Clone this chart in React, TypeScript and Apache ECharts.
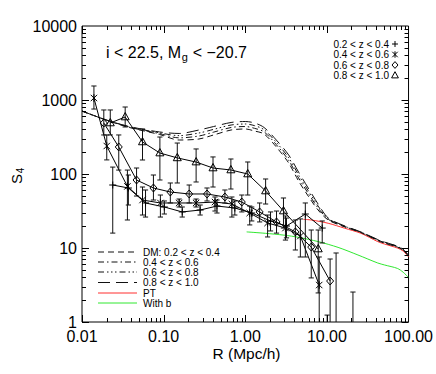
import React, { useEffect, useRef } from 'react';
import * as echarts from 'echarts';

const FONT = '"Liberation Sans", Arial, Helvetica, sans-serif';

// ---- axis tick labels ----
const X_LABELS = ['0.01', '0.10', '1.00', '10.00', '100.00'];
const Y_LABELS = ['1', '10', '100', '1000', '10000'];
const X_DECADES = [0.01, 0.1, 1, 10];
const Y_DECADES = [1, 10, 100, 1000];

// ---- 0.2 < z < 0.4 (+) ----
const plusR = [0.0238, 0.037, 0.06, 0.102, 0.169, 0.28, 0.45, 0.745, 1.2, 2.04, 3.2, 5.44, 8.76];
const plusS = [71, 64.7, 40.6, 35.8, 30.7, 32.6, 36.9, 34.7, 29.7, 23.2, 19.8, 28.8, 18.6];
const plusLo = [15.9, 38.1, 26.2, 28.8, 26.2, 27.9, 29.7, 27.9, 23.2, 17.0, 13.7, 7.56, 11.7];
const plusHi = [124, 96.9, 60.8, 43.2, 35.8, 38.1, 44.5, 43.2, 35.8, 30.7, 25.4, 40.6, 23.2];
// points below the plot, only the upper error bar visible
const lowR = [10.07, 12.96, 20.85];
const lowHi = [1.24, 8.56, 2.54];

// ---- 0.4 < z < 0.6 (asterisk) ----
const starR = [0.014, 0.0201, 0.036, 0.0551, 0.0913, 0.155, 0.25, 0.426, 0.685, 1.134, 1.877, 3.108, 4.729, 8.05];
const starS = [1064, 239, 68, 44.5, 40.6, 40.6, 40.6, 41.8, 39.3, 29.7, 21.8, 18.6, 14.5, 3.16];
const starLo = [755, 155, 23.9, 27.9, 26.2, 35.8, 35.8, 31.6, 26.2, 20.5, 14.1, 12.8, 7.56, 0.3];
const starHi = [1546, 337, 113, 66.7, 52.0, 45.9, 45.9, 48.9, 48.9, 36.9, 27.9, 27.1, 24.7, 7.56];

// ---- 0.6 < z < 0.8 (diamond) ----
const diaR = [0.0185, 0.0282, 0.0466, 0.075, 0.1208, 0.2056, 0.34, 0.563, 0.907, 1.5, 2.415, 4.11, 6.43, 10.95];
const diaS = [489, 232, 83, 64.7, 57.1, 53.7, 53.7, 48.9, 41.8, 30.7, 22.5, 16.5, 10.3, 3.58];
const diaLo = [337, 113, 50.4, 44.5, 40.6, 40.6, 43.2, 40.6, 30.7, 22.5, 15.9, 9.4, 3.94, 0.3];
const diaHi = [733, 337, 120.5, 96.9, 75.6, 71, 64.7, 60.8, 52, 40.6, 31.6, 23.9, 17.5, 7.1];

// ---- 0.8 < z < 1.0 (triangle) ----
const triR = [0.0222, 0.0338, 0.0551, 0.09, 0.147, 0.25, 0.4025, 0.6665, 1.0725, 1.7755, 2.938, 7.83];
const triS = [489, 589, 271, 192, 165, 145, 120.5, 113.3, 100, 58.9, 31.6, 9.69];
const triLo = [337, 432, 154.6, 83, 75.6, 78, 66.7, 62.7, 52, 39.3, 18.6, 2.47];
const triHi = [733, 804, 406, 316, 262, 218, 170, 159.5, 145.3, 85.6, 47.4, 17.5];

// ---- DM curves ----
const dmR = [0.01, 0.019, 0.038, 0.089, 0.155, 0.27, 0.41, 0.67, 1.0, 1.3, 1.7, 2.4, 3.4, 4.5, 5.9, 7.8, 10.4, 16.7, 26, 42, 51, 73, 86, 100];
const dm02 = [710, 545, 425, 342, 288, 297, 337, 393, 406, 381, 347, 232, 141, 80.4, 50.4, 32.6, 23.9, 19.2, 16.2, 12.6, 11.6, 10.3, 9.3, 7.8];
const dm04 = [710, 545, 429, 351, 308, 326, 368, 425, 438, 414, 371, 249, 153, 88.3, 54.8, 34.7, 24.4, 19.4, 16.3, 12.8, 11.8, 10.4, 9.4, 7.85];
const dm06 = [710, 545, 434, 360, 330, 358, 401, 459, 474, 450, 397, 268, 166, 96.9, 59.5, 36.9, 24.9, 19.6, 16.4, 12.9, 11.9, 10.5, 9.5, 7.9];
const dm08 = [710, 545, 438, 370, 353, 393, 438, 497, 512, 489, 425, 288, 181, 106, 64.7, 39.3, 25.4, 19.8, 16.5, 13.0, 12.0, 10.6, 9.6, 8.0];

// ---- PT and With b ----
const ptR = [5.14, 6.43, 10.36, 16.5, 26.1, 42, 51, 73, 86, 100];
const ptS = [24.4, 23.9, 21.6, 18.5, 15.8, 12.2, 11.3, 10.0, 9.1, 7.56];
const wbR = [1.04, 1.76, 3.0, 4.47, 7.83, 13.7, 24.0, 42, 51, 73, 86, 100];
const wbS = [16.5, 15.8, 14.9, 13.95, 12.2, 10.2, 8.05, 6.27, 5.89, 5.3, 4.7, 4.0];

const pairs = (r: number[], s: number[]) => r.map((x, i) => [x, s[i]]);

function markerEls(kind: string, cx: number, cy: number, k = 1): any[] {
  const st = { stroke: '#000', lineWidth: 1, fill: 'none' };
  const ln = (x1: number, y1: number, x2: number, y2: number) => ({ type: 'line', shape: { x1, y1, x2, y2 }, style: st });
  if (kind === 'plus') return [ln(cx - 3.5 * k, cy, cx + 3.5 * k, cy), ln(cx, cy - 3.5 * k, cx, cy + 3.5 * k)];
  if (kind === 'star') return [ln(cx, cy - 3.8 * k, cx, cy + 3.8 * k), ln(cx - 3.2 * k, cy - 3.2 * k, cx + 3.2 * k, cy + 3.2 * k), ln(cx - 3.2 * k, cy + 3.2 * k, cx + 3.2 * k, cy - 3.2 * k)];
  if (kind === 'diamond') return [{ type: 'polygon', shape: { points: [[cx, cy - 4 * k], [cx + 3.5 * k, cy], [cx, cy + 4 * k], [cx - 3.5 * k, cy]] }, style: st }];
  return [{ type: 'polygon', shape: { points: [[cx, cy - 4.5 * k], [cx + 4 * k, cy + 2.8 * k], [cx - 4 * k, cy + 2.8 * k]] }, style: st }];
}

function errSeries(kind: string, R: number[], S: number[], lo: number[], hi: number[]) {
  return {
    type: 'custom',
    coordinateSystem: 'cartesian2d',
    clip: true,
    silent: true,
    z: 6,
    encode: { x: 0, y: 1 },
    data: R.map((r, i) => [r, S[i], lo[i], hi[i]]),
    renderItem: (params: any, api: any) => {
      const x = api.value(0);
      const p = api.coord([x, api.value(1)]);
      const pl = api.coord([x, api.value(2)]);
      const ph = api.coord([x, api.value(3)]);
      const st = { stroke: '#111', lineWidth: 1 };
      return {
        type: 'group',
        children: [
          { type: 'line', shape: { x1: p[0], y1: ph[1], x2: p[0], y2: pl[1] }, style: st },
          { type: 'line', shape: { x1: p[0] - 2.6, y1: ph[1], x2: p[0] + 2.6, y2: ph[1] }, style: st },
          { type: 'line', shape: { x1: p[0] - 2.6, y1: pl[1], x2: p[0] + 2.6, y2: pl[1] }, style: st },
          ...markerEls(kind, p[0], p[1]),
        ],
      };
    },
  };
}

function connect(R: number[], S: number[]) {
  return {
    type: 'line', data: pairs(R, S), symbol: 'none', silent: true, z: 5,
    lineStyle: { color: '#000', width: 1 },
  };
}

function dmLine(S: number[], dash: number[]) {
  return {
    type: 'line', data: pairs(dmR, S), symbol: 'none', silent: true, z: 3, smooth: 0.3,
    lineStyle: { color: '#111', width: 1, type: dash },
  };
}

const DASH02 = [6, 4];
const DASH04 = [6, 3, 1.5, 3];
const DASH06 = [6, 3, 1.5, 2.5, 1.5, 2.5, 1.5, 3];
const DASH08 = [12, 6];
const RED = '#ff2e2e';
const GREEN = '#30e830';

export default function App() {
  const ref = useRef<HTMLDivElement>(null);
  useEffect(() => {
    const chart = echarts.init(ref.current!, null, { renderer: 'svg' });

    const cv = document.createElement('canvas').getContext('2d')!;
    const measure = (t: string, size: number) => { cv.font = `${size}px ${FONT}`; return cv.measureText(t).width; };

    // ticks
    const tickData: number[][] = [];
    X_DECADES.forEach((d) => { for (let m = 1; m <= 9; m++) tickData.push([m * d, 1, m === 1 ? 1 : 0, 0]); });
    Y_DECADES.forEach((d) => { for (let m = 1; m <= 9; m++) tickData.push([0.01, m * d, m === 1 ? 1 : 0, 1]); });

    const tickSeries = {
      type: 'custom', coordinateSystem: 'cartesian2d', clip: false, silent: true, z: 10,
      encode: { x: 0, y: 1 },
      data: tickData,
      renderItem: (params: any, api: any) => {
        const bl = api.coord([0.01, 1]);
        const tr = api.coord([100, 10000]);
        const len = api.value(2) ? 7 : 4;
        const st = { stroke: '#000', lineWidth: 1 };
        if (!api.value(3)) {
          const x = Math.round(api.coord([api.value(0), 1])[0]) + 0.5;
          return { type: 'group', children: [
            { type: 'line', shape: { x1: x, y1: bl[1], x2: x, y2: bl[1] - len }, style: st },
            { type: 'line', shape: { x1: x, y1: tr[1], x2: x, y2: tr[1] + len }, style: st },
          ] };
        }
        const y = Math.round(api.coord([0.01, api.value(1)])[1]) + 0.5;
        return { type: 'group', children: [
          { type: 'line', shape: { x1: bl[0], y1: y, x2: bl[0] + len, y2: y }, style: st },
          { type: 'line', shape: { x1: tr[0], y1: y, x2: tr[0] - len, y2: y }, style: st },
        ] };
      },
    };

    const lowSeries = {
      type: 'custom', coordinateSystem: 'cartesian2d', clip: true, silent: true, z: 6,
      encode: { x: 0, y: 1 },
      data: lowR.map((r, i) => [r, lowHi[i]]),
      renderItem: (params: any, api: any) => {
        const ph = api.coord([api.value(0), api.value(1)]);
        const pb = api.coord([api.value(0), 0.5]);
        const st = { stroke: '#111', lineWidth: 1 };
        return { type: 'group', children: [
          { type: 'line', shape: { x1: ph[0], y1: ph[1], x2: ph[0], y2: pb[1] }, style: st },
          { type: 'line', shape: { x1: ph[0] - 2.6, y1: ph[1], x2: ph[0] + 2.6, y2: ph[1] }, style: st },
        ] };
      },
    };

    const txt = (text: string, x: number, y: number, size: number, align = 'left', extra: any = {}) => ({
      type: 'text', x, y, silent: true, z: 20,
      style: { text, font: `${size}px ${FONT}`, fill: '#000', align, verticalAlign: 'middle', textAlign: align, textVerticalAlign: 'middle', ...extra },
    });

    // title
    const t1 = 'i < 22.5, M';
    const t3 = ' < \u221220.7';
    const tx = 106, ty = 52, ts = 16;
    const w1 = measure(t1, ts);
    const w2 = measure('g', 11);

    // bottom-left legend
    const legRows = [252, 262, 272, 282.5, 293, 303];
    const legLabels = ['DM: 0.2 < z < 0.4', '0.4 < z < 0.6', '0.6 < z < 0.8', '0.8 < z < 1.0', 'PT', 'With b'];
    const legStyles = [
      { stroke: '#111', lineDash: DASH02 },
      { stroke: '#111', lineDash: DASH04 },
      { stroke: '#111', lineDash: DASH06 },
      { stroke: '#111', lineDash: DASH08 },
      { stroke: RED, lineDash: null },
      { stroke: GREEN, lineDash: null },
    ];
    const legEls: any[] = [];
    legRows.forEach((y, i) => {
      legEls.push({ type: 'line', silent: true, z: 20, shape: { x1: 98, y1: y, x2: 137, y2: y }, style: { lineWidth: 1, ...legStyles[i] } });
      legEls.push(txt(legLabels[i], 143, y, 10));
    });

    // top-right legend
    const trRows = [44, 54.5, 65, 75.5];
    const trLabels = ['0.2 < z < 0.4', '0.4 < z < 0.6', '0.6 < z < 0.8', '0.8 < z < 1.0'];
    const trKinds = ['plus', 'star', 'diamond', 'tri'];
    trRows.forEach((y, i) => {
      legEls.push(txt(trLabels[i], 389, y, 10, 'right'));
      markerEls(trKinds[i], 395, y, 0.85).forEach((e) => legEls.push({ ...e, silent: true, z: 20 }));
    });

    const option: any = {
      animation: false,
      backgroundColor: '#fff',
      textStyle: { fontFamily: FONT },
      grid: { left: 82, top: 26, width: 329, height: 296, show: true, borderColor: '#000', borderWidth: 1, backgroundColor: 'transparent' },
      xAxis: {
        type: 'log', logBase: 10, min: 0.01, max: 100, splitNumber: 4,
        axisLine: { show: false }, axisTick: { show: false }, splitLine: { show: false }, minorTick: { show: false },
        axisLabel: {
          show: true, fontSize: 16, lineHeight: 14, color: '#000', margin: 7, fontFamily: FONT, hideOverlap: false,
          showMinLabel: true, showMaxLabel: true,
          formatter: (v: number) => X_LABELS[Math.round(Math.log10(v)) + 2],
        },
      },
      yAxis: {
        type: 'log', logBase: 10, min: 1, max: 10000, splitNumber: 4,
        axisLine: { show: false }, axisTick: { show: false }, splitLine: { show: false }, minorTick: { show: false },
        axisLabel: {
          show: true, fontSize: 16, lineHeight: 12, color: '#000', margin: 5, fontFamily: FONT, hideOverlap: false,
          showMinLabel: true, showMaxLabel: true,
          formatter: (v: number) => Y_LABELS[Math.round(Math.log10(v))],
        },
      },
      series: [
        dmLine(dm02, DASH02),
        dmLine(dm04, DASH04),
        dmLine(dm06, DASH06),
        dmLine(dm08, DASH08),
        { type: 'line', data: pairs(ptR, ptS), symbol: 'none', silent: true, z: 2, smooth: 0.3, lineStyle: { color: RED, width: 1 } },
        { type: 'line', data: pairs(wbR, wbS), symbol: 'none', silent: true, z: 2, smooth: 0.3, lineStyle: { color: GREEN, width: 1 } },
        connect(plusR, plusS),
        connect(starR, starS),
        connect(diaR, diaS),
        connect(triR, triS),
        errSeries('plus', plusR, plusS, plusLo, plusHi),
        errSeries('star', starR, starS, starLo, starHi),
        errSeries('diamond', diaR, diaS, diaLo, diaHi),
        errSeries('tri', triR, triS, triLo, triHi),
        lowSeries,
        tickSeries,
      ],
      graphic: {
        elements: [
          txt(t1, tx, ty, ts),
          txt('g', tx + w1 + 0.5, ty + 5, 11),
          txt(t3, tx + w1 + w2 + 1, ty, ts),
          txt('R (Mpc/h)', 246.5, 353, 15.5, 'center'),
          {
            type: 'group', x: 16, y: 175, rotation: Math.PI / 2, silent: true,
            children: [
              txt('S', -4, 0, 15, 'center'),
              txt('4', 4.5, 4, 10, 'center'),
            ],
          },
          ...legEls,
        ],
      },
    };
    chart.setOption(option);
    return () => chart.dispose();
  }, []);
  return <div ref={ref} style={{ position: 'fixed', left: 0, top: 0, width: 436, height: 374, background: '#fff' }} />;
}
